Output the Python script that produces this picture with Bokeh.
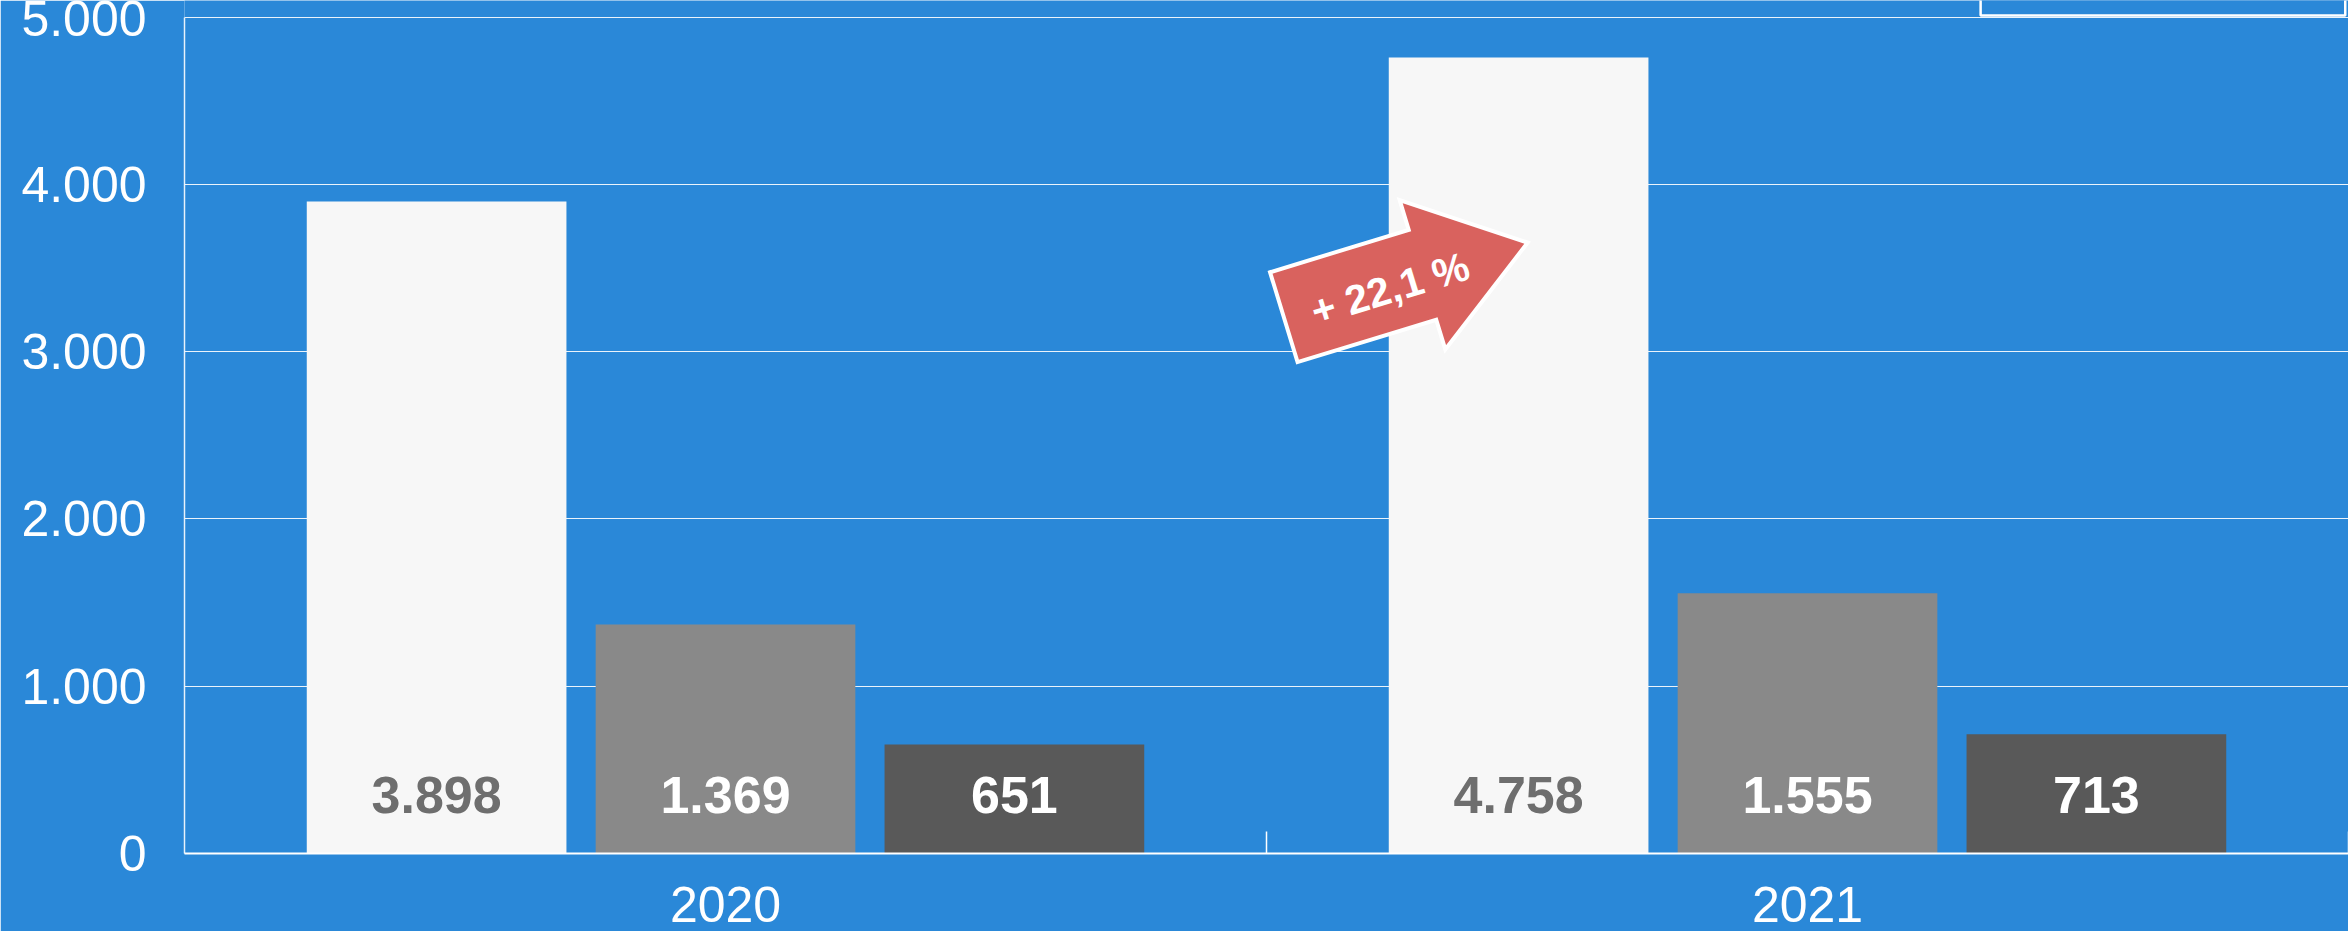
import math
from bokeh.plotting import figure
from bokeh.models import FactorRange, Range1d, FixedTicker, ColumnDataSource
from bokeh.transform import dodge
from bokeh.core.properties import value
from bokeh.embed import file_html
from bokeh.resources import INLINE

# ---------------- data ----------------
years = ["2020", "2021"]
series_a = [3898, 4758]   # white bars
series_b = [1369, 1555]   # grey bars
series_c = [651, 713]     # dark bars
y_ticks = [0, 1000, 2000, 3000, 4000, 5000]

# ---------------- style ----------------
BG = "#2A88D8"
BAR_COLORS = ["#F7F7F7", "#898989", "#595959"]
LABEL_COLORS = ["#6E6E6E", "#FFFFFF", "#FFFFFF"]
OFFSETS = [-0.267, 0.0, 0.267]
BAR_W = 0.24

W, H = 2348, 931
B_LEFT, B_BOTTOM = 184, 78
FRAME_W, FRAME_H = W - B_LEFT, H - B_BOTTOM
Y_END = 5099

def de(v):
    return f"{v:,}".replace(",", ".")

def cat(xl):
    """position along the category axis (0..n) -> categorical coordinate with offset"""
    i = min(int(math.floor(xl)), len(years) - 1)
    return (years[i], xl - i - 0.5)

p = figure(
    x_range=FactorRange(factors=years),
    y_range=Range1d(0, Y_END),
    width=W, height=H,
    min_border_left=B_LEFT, min_border_right=0, min_border_top=0, min_border_bottom=B_BOTTOM,
    output_backend="svg", toolbar_location=None,
    background_fill_color=BG, border_fill_color=BG, outline_line_color=None,
)

# y axis
p.yaxis.ticker = FixedTicker(ticks=y_ticks)
p.yaxis.major_label_overrides = {t: de(t) for t in y_ticks}
p.yaxis.bounds = (0, y_ticks[-1])
p.yaxis.axis_line_color = "white"
p.yaxis.axis_line_alpha = 0.85
p.yaxis.axis_line_width = 1.5
p.yaxis.major_tick_line_color = None
p.yaxis.minor_tick_line_color = None
p.yaxis.major_label_standoff = 32
p.yaxis.major_label_text_font = "Liberation Sans"
p.yaxis.major_label_text_font_size = "50px"
p.yaxis.major_label_text_color = "white"

# x axis
p.xaxis.axis_line_color = "white"
p.xaxis.axis_line_width = 2
p.xaxis.major_tick_line_color = None
p.xaxis.minor_tick_line_color = None
p.xaxis.major_label_standoff = 27
p.xaxis.major_label_text_line_height = 0.9
p.xaxis.major_label_text_font = "Liberation Sans"
p.xaxis.major_label_text_font_size = "50px"
p.xaxis.major_label_text_color = "white"

p.xgrid.visible = False
p.ygrid.grid_line_color = "white"
p.ygrid.grid_line_width = 1
p.ygrid.grid_line_alpha = 0.9

# bars + labels
for vals, col, lcol, off in zip([series_a, series_b, series_c], BAR_COLORS, LABEL_COLORS, OFFSETS):
    src = ColumnDataSource(dict(year=years, v=vals, lab=[de(v) for v in vals], zero=[0] * len(vals)))
    p.vbar(x=dodge("year", off, range=p.x_range), top="v", width=BAR_W, source=src,
           fill_color=col, line_color=None)
    p.text(x=dodge("year", off, range=p.x_range), y="zero", text="lab", source=src,
           y_offset=-59, text_align="center", text_baseline="middle",
           text_font=value("Liberation Sans"), text_font_style="bold",
           text_font_size="52px", text_color=lcol)

# category boundary ticks (inside)
p.scatter(x=[cat(i) for i in range(1, len(years) + 1)], y=[0] * len(years), marker="dash",
          angle=math.pi / 2, size=44, line_color="white", line_width=1.5)

# cropped legend box at top right
p.quad(left=[cat(1.660)], right=[cat(1.997)], bottom=[5009], top=[5500], fill_color=BG,
       line_color="white", line_width=2.5)

# growth arrow between the two white bars
growth = (series_a[1] - series_a[0]) / series_a[0] * 100
growth_txt = "+ " + f"{growth:.1f}".replace(".", ",") + " %"

px_x = FRAME_W / len(years)
px_y = FRAME_H / Y_END
theta = math.radians(17)
x0, y0 = 1.016, 3206.0          # tail middle
L, Ls, hw, hh = 255, 145, 47, 78
local = [(0, hw), (Ls, hw), (Ls, hh), (L, 0), (Ls, -hh), (Ls, -hw), (0, -hw)]
ax, ay = [], []
for a, c in local:
    dx = a * math.cos(theta) - c * math.sin(theta)
    dy = a * math.sin(theta) + c * math.cos(theta)
    ax.append(cat(x0 + dx / px_x))
    ay.append(y0 + dy / px_y)
p.patch(ax, ay, fill_color="#D9625E", line_color="white", line_width=4, line_join="miter")
ta, tc = 110, -4
tx = ta * math.cos(theta) - tc * math.sin(theta)
ty = ta * math.sin(theta) + tc * math.cos(theta)
p.text(x=[cat(x0 + tx / px_x)], y=[y0 + ty / px_y],
       text=[growth_txt], angle=theta, text_align="center", text_baseline="middle",
       text_font=value("Liberation Sans"), text_font_style="bold", text_font_size="41px",
       text_color="white")

open("out.html", "w").write(file_html(p, INLINE))
